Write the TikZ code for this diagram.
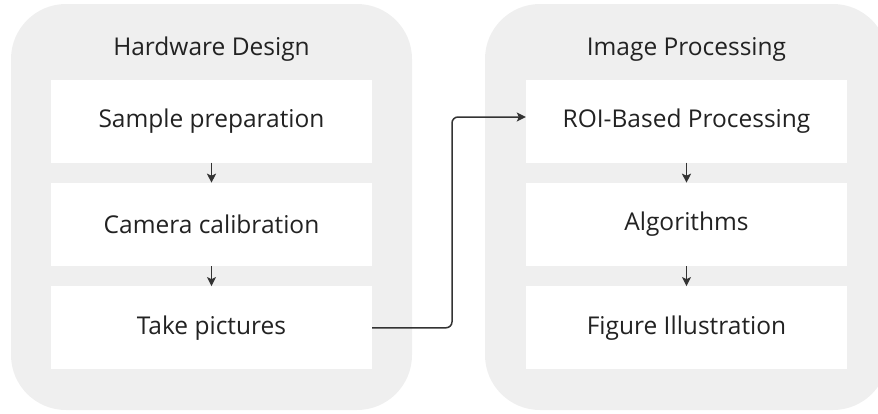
\documentclass[tikz,border=0pt]{standalone}
\usepackage{fontspec}
\setmainfont{Open Sans}
\usetikzlibrary{arrows.meta, positioning}

\definecolor{panelgray}{HTML}{EFEFEF}
\definecolor{inkgray}{HTML}{222222}
\definecolor{linegray}{HTML}{333333}

\tikzset{
    panel/.style={fill=panelgray, rounded corners=55pt, minimum width=401pt, minimum height=406pt, inner sep=0pt},
    title/.style={text=inkgray, font=\fontsize{24.5}{29}\selectfont},
    stepbox/.style={fill=white, minimum width=321pt, minimum height=83pt, inner sep=0pt,
        text=inkgray, font=\fontsize{24.5}{29}\selectfont},
    flow/.style={-{Stealth[length=9pt, width=9pt, inset=2pt]}, draw=linegray, line width=1.5pt},
}

\begin{document}
\begin{tikzpicture}[x=1pt, y=-1pt, node distance=20pt]
    \useasboundingbox (0,0) rectangle (878,413);
    \clip (0,0) rectangle (878,413);

    % the two stages
    \node[panel] (hw) at (211.5,207) {};
    \node[panel, minimum width=403pt] (ip) at (686.5,207) {};
    \node[title] (hwtitle) at (211.5,49) {Hardware Design};
    \node[title] (iptitle) at (686.5,49) {Image Processing};

    % hardware side
    \node[stepbox] (sample) at (211.5,121) {Sample preparation};
    \node[stepbox] (calib) [below=of sample] {Camera calibration};
    \node[stepbox] (pics) [below=of calib] {Take pictures};

    % processing side
    \node[stepbox] (roi) at (686.5,121) {ROI-Based Processing};
    \node[stepbox] (algo) [below=of roi] {Algorithms};
    \node[stepbox] (figs) [below=of algo] {Figure Illustration};

    \draw[flow] (sample) -- (calib);
    \draw[flow] (calib) -- (pics);
    \draw[flow] (roi) -- (algo);
    \draw[flow] (algo) -- (figs);

    % hand-over between the stages
    \draw[flow, rounded corners=6pt] (pics.east) -| (452,117) -- ([yshift=4pt]roi.west);
\end{tikzpicture}
\end{document}
